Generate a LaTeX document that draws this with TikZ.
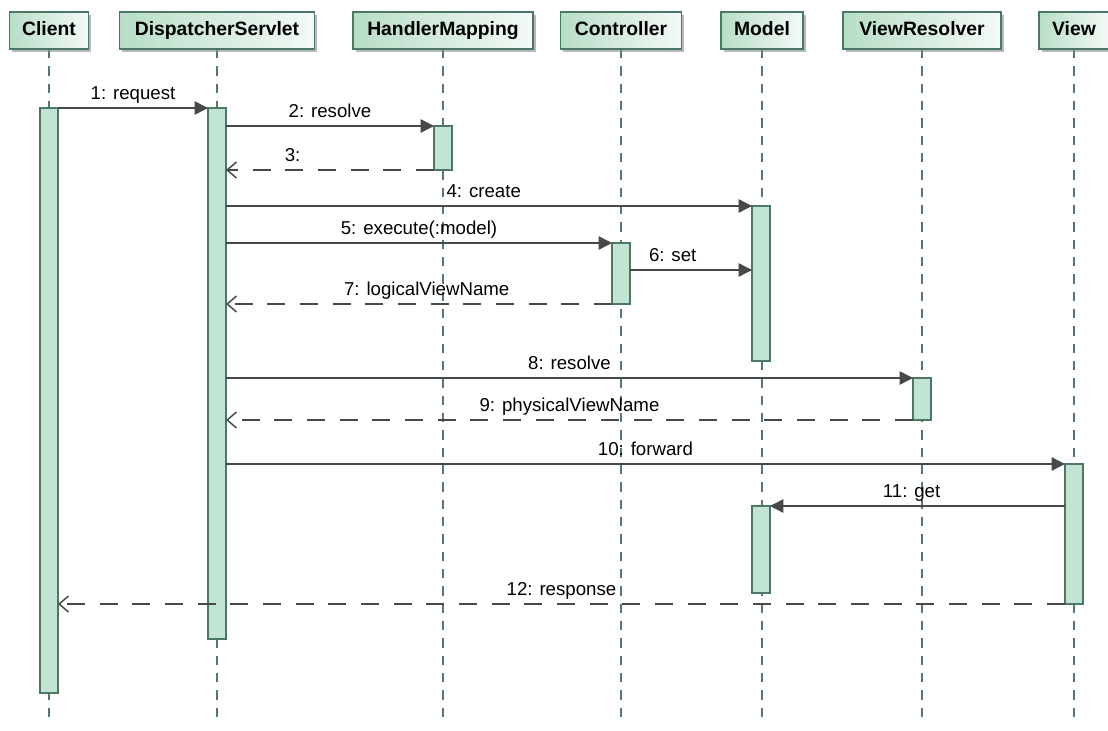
\documentclass[tikz,border=0pt]{standalone}
\usepackage{fontspec}
\setmainfont{Liberation Sans}
\usepackage{tikz}
\usetikzlibrary{arrows.meta,calc,fit,shadows}

\definecolor{barfill}{HTML}{C3E4D3}
\definecolor{edgegreen}{HTML}{4B7866}
\definecolor{hdrfill}{HTML}{B8DDC7}
\definecolor{msgline}{HTML}{484848}
\definecolor{lifegreen}{HTML}{557A6B}

\tikzset{
    head/.style={draw=edgegreen, line width=1.1pt, left color=hdrfill, right color=white!85!hdrfill,
        minimum height=27.75pt, inner sep=0pt, text height=10.5pt, text depth=3pt,
        font=\bfseries\fontsize{14.5}{16}\selectfont,
        drop shadow={shadow xshift=2.2pt, shadow yshift=-2.2pt, fill=black!45, opacity=0.6}},
    lifeline/.style={draw=lifegreen, line width=0.9pt, dash pattern=on 7pt off 6pt},
    bar/.style={draw=edgegreen, fill=barfill, line width=1.1pt, inner sep=0pt, outer sep=0pt},
    call/.style={draw=msgline, line width=1.1pt, -{Triangle[length=10pt,width=10pt]}},
    ret/.style={draw=msgline, line width=1.1pt, dash pattern=on 13.5pt off 11pt,
        -{Straight Barb[length=7pt,width=12pt]}},
    msg/.style={anchor=base, yshift=6.5pt, inner sep=0pt, font=\fontsize{14}{16}\selectfont}
}

\begin{document}
\begin{tikzpicture}[x=0.75pt, y=-0.75pt]
    \useasboundingbox (0,0) rectangle (1108,731);

    % Heads and lifelines
    \foreach \n/\x/\w/\t in {hClient/49/79/Client, hDisp/217/195/DispatcherServlet,
        hHM/443/180/HandlerMapping, hCtrl/621/121/Controller, hModel/762/82/Model,
        hVR/922/158/ViewResolver, hView/1074/70/View} {
        \draw[lifeline] (\x,49) -- (\x,725);
        \node[head, minimum width=\w*0.75pt] (\n) at (\x,30.5) {\t};
    }

    % Activations
    \foreach \n/\x/\ya/\yb in {aClient/49/108/693, aDisp/217/108/639, aHM/443/126/170,
        aCtrl/621/243/304, aModelA/761/206/361, aVR/922/378/420,
        aView/1074/464/604, aModelB/761/506/593} {
        \node[bar, fit={(\x-9,\ya) (\x+9,\yb)}] (\n) {};
    }
    \coordinate (setY) at (0,270);

    % Messages
    \draw[call] (aClient.north east) -- (aDisp.north west) node[msg, midway] {1: request};
    \draw[call] (aDisp.east |- aHM.north) -- (aHM.north west) node[msg, midway] {2: resolve};
    \draw[ret] (aHM.south west) -- (aDisp.east |- aHM.south) node[msg, pos=0.68] {3:};
    \draw[call] (aDisp.east |- aModelA.north) -- (aModelA.north west) node[msg, pos=0.49] {4: create};
    \draw[call] (aDisp.east |- aCtrl.north) -- (aCtrl.north west) node[msg, midway] {5: execute(:model)};
    \draw[call] (aCtrl.east |- setY) -- (aModelA.west |- setY) node[msg, pos=0.35] {6: set};
    \draw[ret] (aCtrl.south west) -- (aDisp.east |- aCtrl.south) node[msg, pos=0.48] {7: logicalViewName};
    \draw[call] (aDisp.east |- aVR.north) -- (aVR.north west) node[msg, midway] {8: resolve};
    \draw[ret] (aVR.south west) -- (aDisp.east |- aVR.south) node[msg, midway] {9: physicalViewName};
    \draw[call] (aDisp.east |- aView.north) -- (aView.north west) node[msg, midway] {10: forward};
    \draw[call] (aView.west |- aModelB.north) -- (aModelB.north east) node[msg, pos=0.52] {11: get};
    \draw[ret] (aView.south west) -- (aClient.east |- aView.south) node[msg, midway] {12: response};
\end{tikzpicture}
\end{document}
